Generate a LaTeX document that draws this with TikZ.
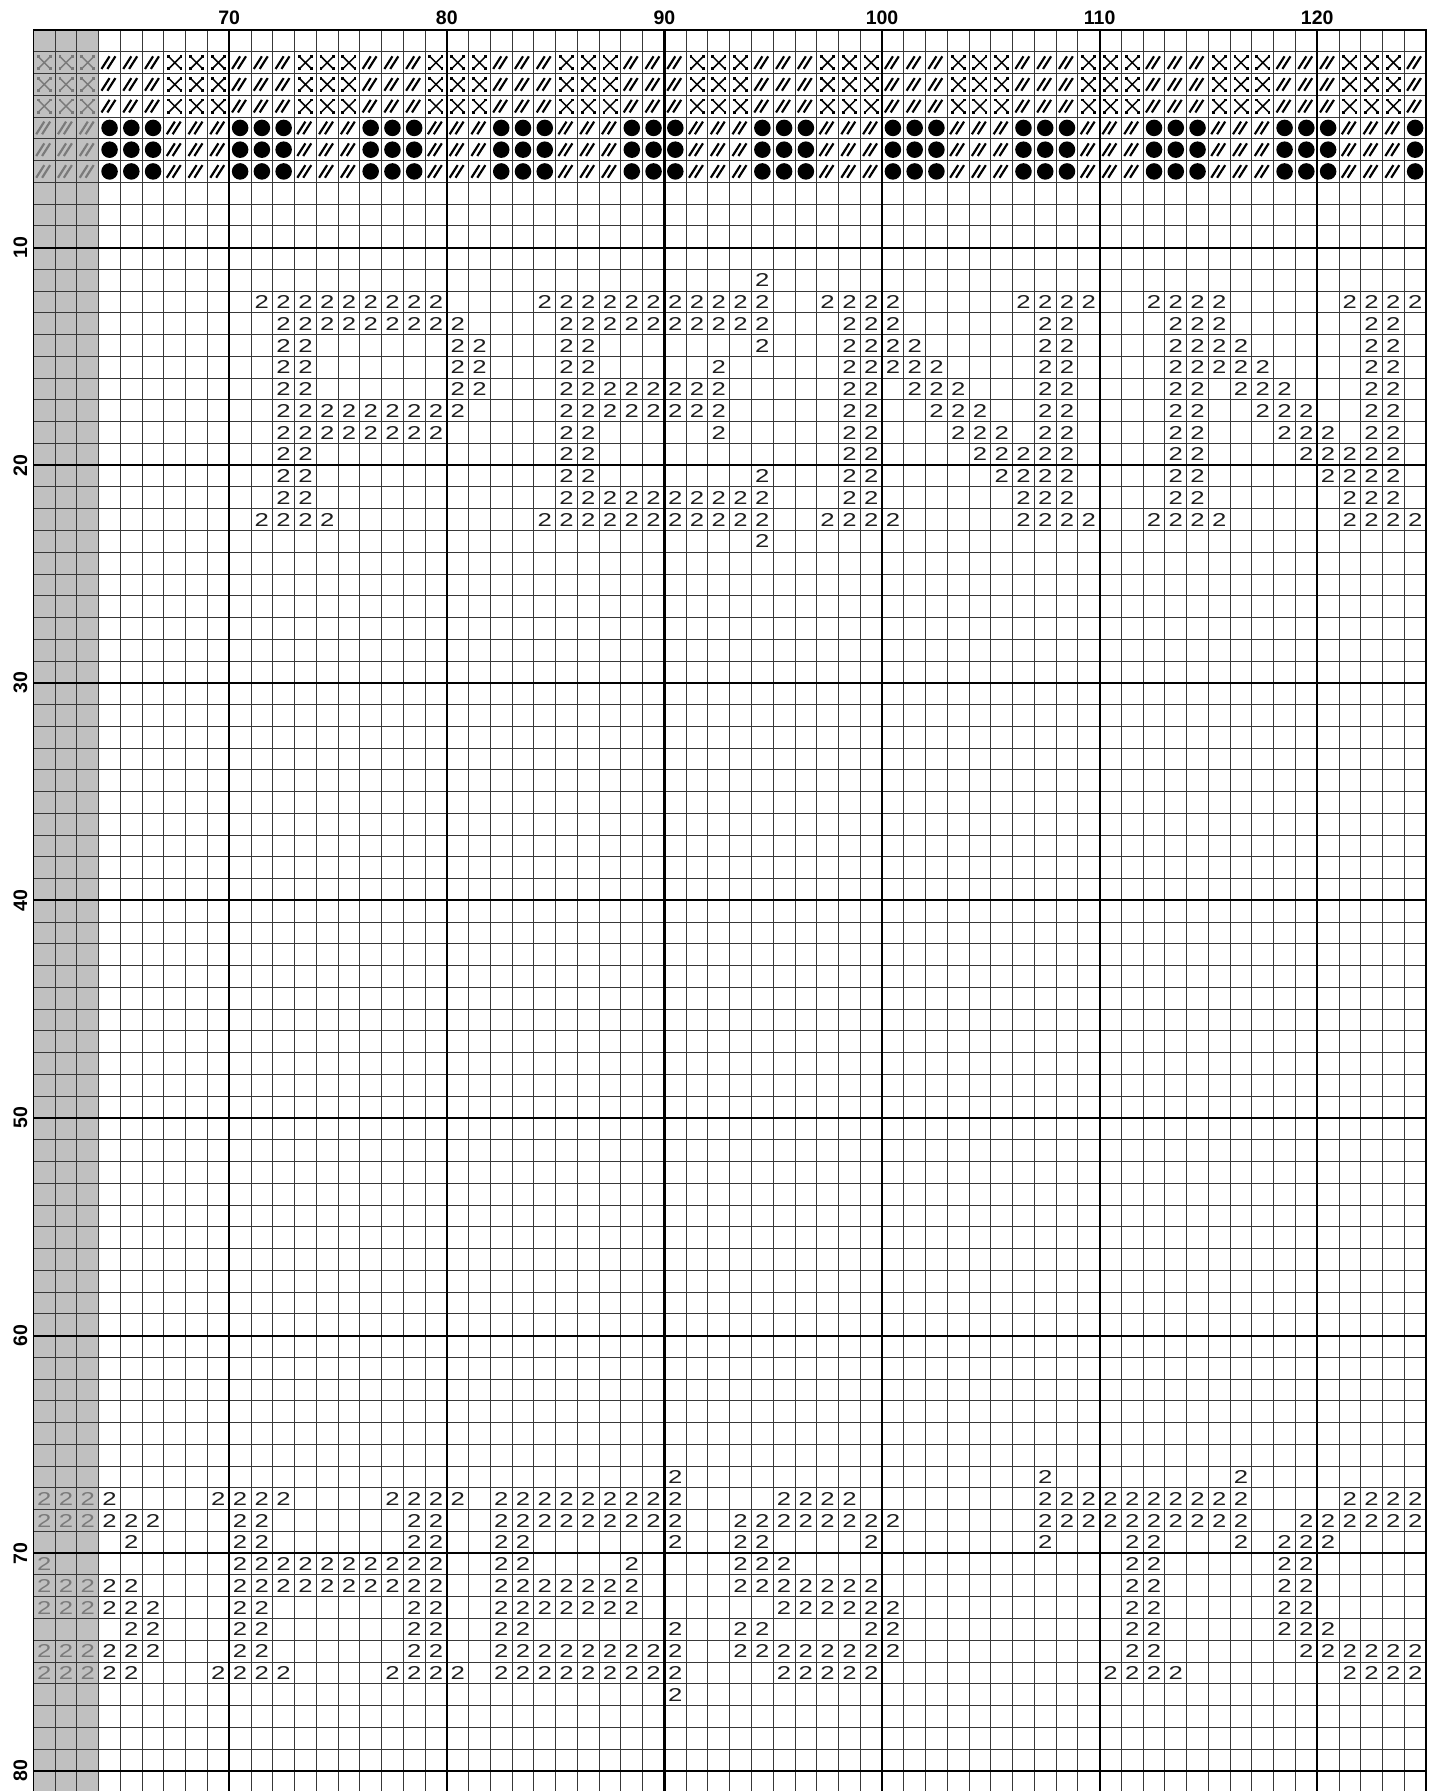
\documentclass[tikz,border=0pt]{standalone}
\usepackage{fontspec}
\setmainfont{Liberation Sans}
\definecolor{cellgray}{HTML}{C0C0C0}
\definecolor{symgray}{HTML}{7A7A7A}
\definecolor{gridline}{HTML}{383838}
\tikzset{
  thinline/.style={draw=gridline, line width=0.75pt},
  thickline/.style={draw=black, line width=1.7pt},
  borderline/.style={draw=black, line width=1.3pt},
  two/.style={inner sep=0pt, font=\fontsize{14.6}{15}\selectfont, xscale=1.38, text=black!88},
  gtwo/.style={two, text=symgray},
  collbl/.style={inner sep=0pt, font=\fontsize{15.3}{16}\selectfont\bfseries},
  rowlbl/.style={collbl, rotate=90},
  xsym/.pic={
    \draw[line width=1.15pt] (-0.27,-0.27) -- (0.27,0.27) (-0.27,0.27) -- (0.27,-0.27);
    \foreach \sx in {-1,1}{\foreach \sy in {-1,1}{
      \fill (\sx*0.28-0.065,\sy*0.28-0.065) rectangle ++(0.13,0.13);}}
  },
  slashsym/.pic={
    \draw[line width=1.7pt] (-0.37,0.29) -- (0,-0.29) (-0.1,0.29) -- (0.27,-0.29);
  },
  dotsym/.pic={
    \fill (0,0) circle (0.38);
  }
}
\newcommand\twos[3][two]{%
  \foreach \a/\b in {#3}{\foreach \c in {\a,...,\b}{%
    \node[#1] (t-#2-\c) at (\c-61.5,#2-0.5) {2};}}}
\begin{document}
\begin{tikzpicture}[x=0.6cm,y=-0.6cm]
\useasboundingbox (-1.535,-1.379) rectangle (64.50,80.93);
% gray columns
\fill[cellgray] (0,0) rectangle (3,80.93);
% top symbol band
\foreach \c in {62,...,125}{
  \pgfmathtruncatemacro\m{mod(\c-59,6)}
  \ifnum\c<65 \def\symcol{symgray}\else\def\symcol{black}\fi
  \foreach \r in {2,3,4}{
    \ifnum\m<3 \pic[color=\symcol] at (\c-61.5,\r-0.5) {slashsym};
    \else \pic[color=\symcol] at (\c-61.5,\r-0.5) {xsym};\fi
  }
  \foreach \r in {5,6,7}{
    \ifnum\m<3 \pic[color=\symcol] at (\c-61.5,\r-0.5) {dotsym};
    \else \pic[color=\symcol] at (\c-61.5,\r-0.5) {slashsym};\fi
  }
}
% grid
\foreach \i in {0,...,64} \draw[thinline] (\i,0) -- (\i,80.93);
\foreach \j in {0,...,80} \draw[thinline] (0,\j) -- (64,\j);
\foreach \i in {9,19,29,39,49,59} \draw[thickline] (\i,0) -- (\i,80.93);
\foreach \j in {10,20,...,80} \draw[thickline] (0,\j) -- (64,\j);
\draw[borderline] (0,80.93) -- (0,0) -- (64,0) -- (64,80.93);
% labels
\foreach \v in {70,80,...,120} \node[collbl] (c\v) at (\v-61,-0.574) {\v};
\foreach \v in {10,20,...,80} \node[rowlbl] (r\v) at (-0.6,\v) {\v};
% PENN
\twos{12}{95/95}
\twos{13}{72/80,85/95,98/101,107/110,113/116,122/125}
\twos{14}{73/81,86/95,99/101,108/109,114/116,123/124}
\twos{15}{73/74,81/82,86/87,95/95,99/102,108/109,114/117,123/124}
\twos{16}{73/74,81/82,86/87,93/93,99/103,108/109,114/118,123/124}
\twos{17}{73/74,81/82,86/93,99/100,102/104,108/109,114/115,117/119,123/124}
\twos{18}{73/81,86/93,99/100,103/105,108/109,114/115,118/120,123/124}
\twos{19}{73/80,86/87,93/93,99/100,104/106,108/109,114/115,119/121,123/124}
\twos{20}{73/74,86/87,99/100,105/109,114/115,120/124}
\twos{21}{73/74,86/87,95/95,99/100,106/109,114/115,121/124}
\twos{22}{73/74,86/95,99/100,107/109,114/115,122/124}
\twos{23}{72/75,85/95,98/101,107/110,113/116,122/125}
\twos{24}{95/95}
% bottom text
\twos{67}{91/91,108/108,117/117}
\twos[gtwo]{68}{62/64}
\twos{68}{65/65,70/73,78/81,83/91,96/99,108/117,122/125}
\twos[gtwo]{69}{62/64}
\twos{69}{65/67,71/72,79/80,83/91,94/101,108/117,120/125}
\twos{70}{66/66,71/72,79/80,83/84,91/91,94/95,100/100,108/108,112/113,117/117,119/121}
\twos[gtwo]{71}{62/62}
\twos{71}{71/80,83/84,89/89,94/96,112/113,119/120}
\twos[gtwo]{72}{62/64}
\twos{72}{65/66,71/80,83/89,94/100,112/113,119/120}
\twos[gtwo]{73}{62/64}
\twos{73}{65/67,71/72,79/80,83/89,96/101,112/113,119/120}
\twos{74}{66/67,71/72,79/80,83/84,91/91,94/95,100/101,112/113,119/121}
\twos[gtwo]{75}{62/64}
\twos{75}{65/67,71/72,79/80,83/91,94/101,112/113,120/125}
\twos[gtwo]{76}{62/64}
\twos{76}{65/66,70/73,78/81,83/91,96/100,111/114,122/125}
\twos{77}{91/91}
\end{tikzpicture}
\end{document}
